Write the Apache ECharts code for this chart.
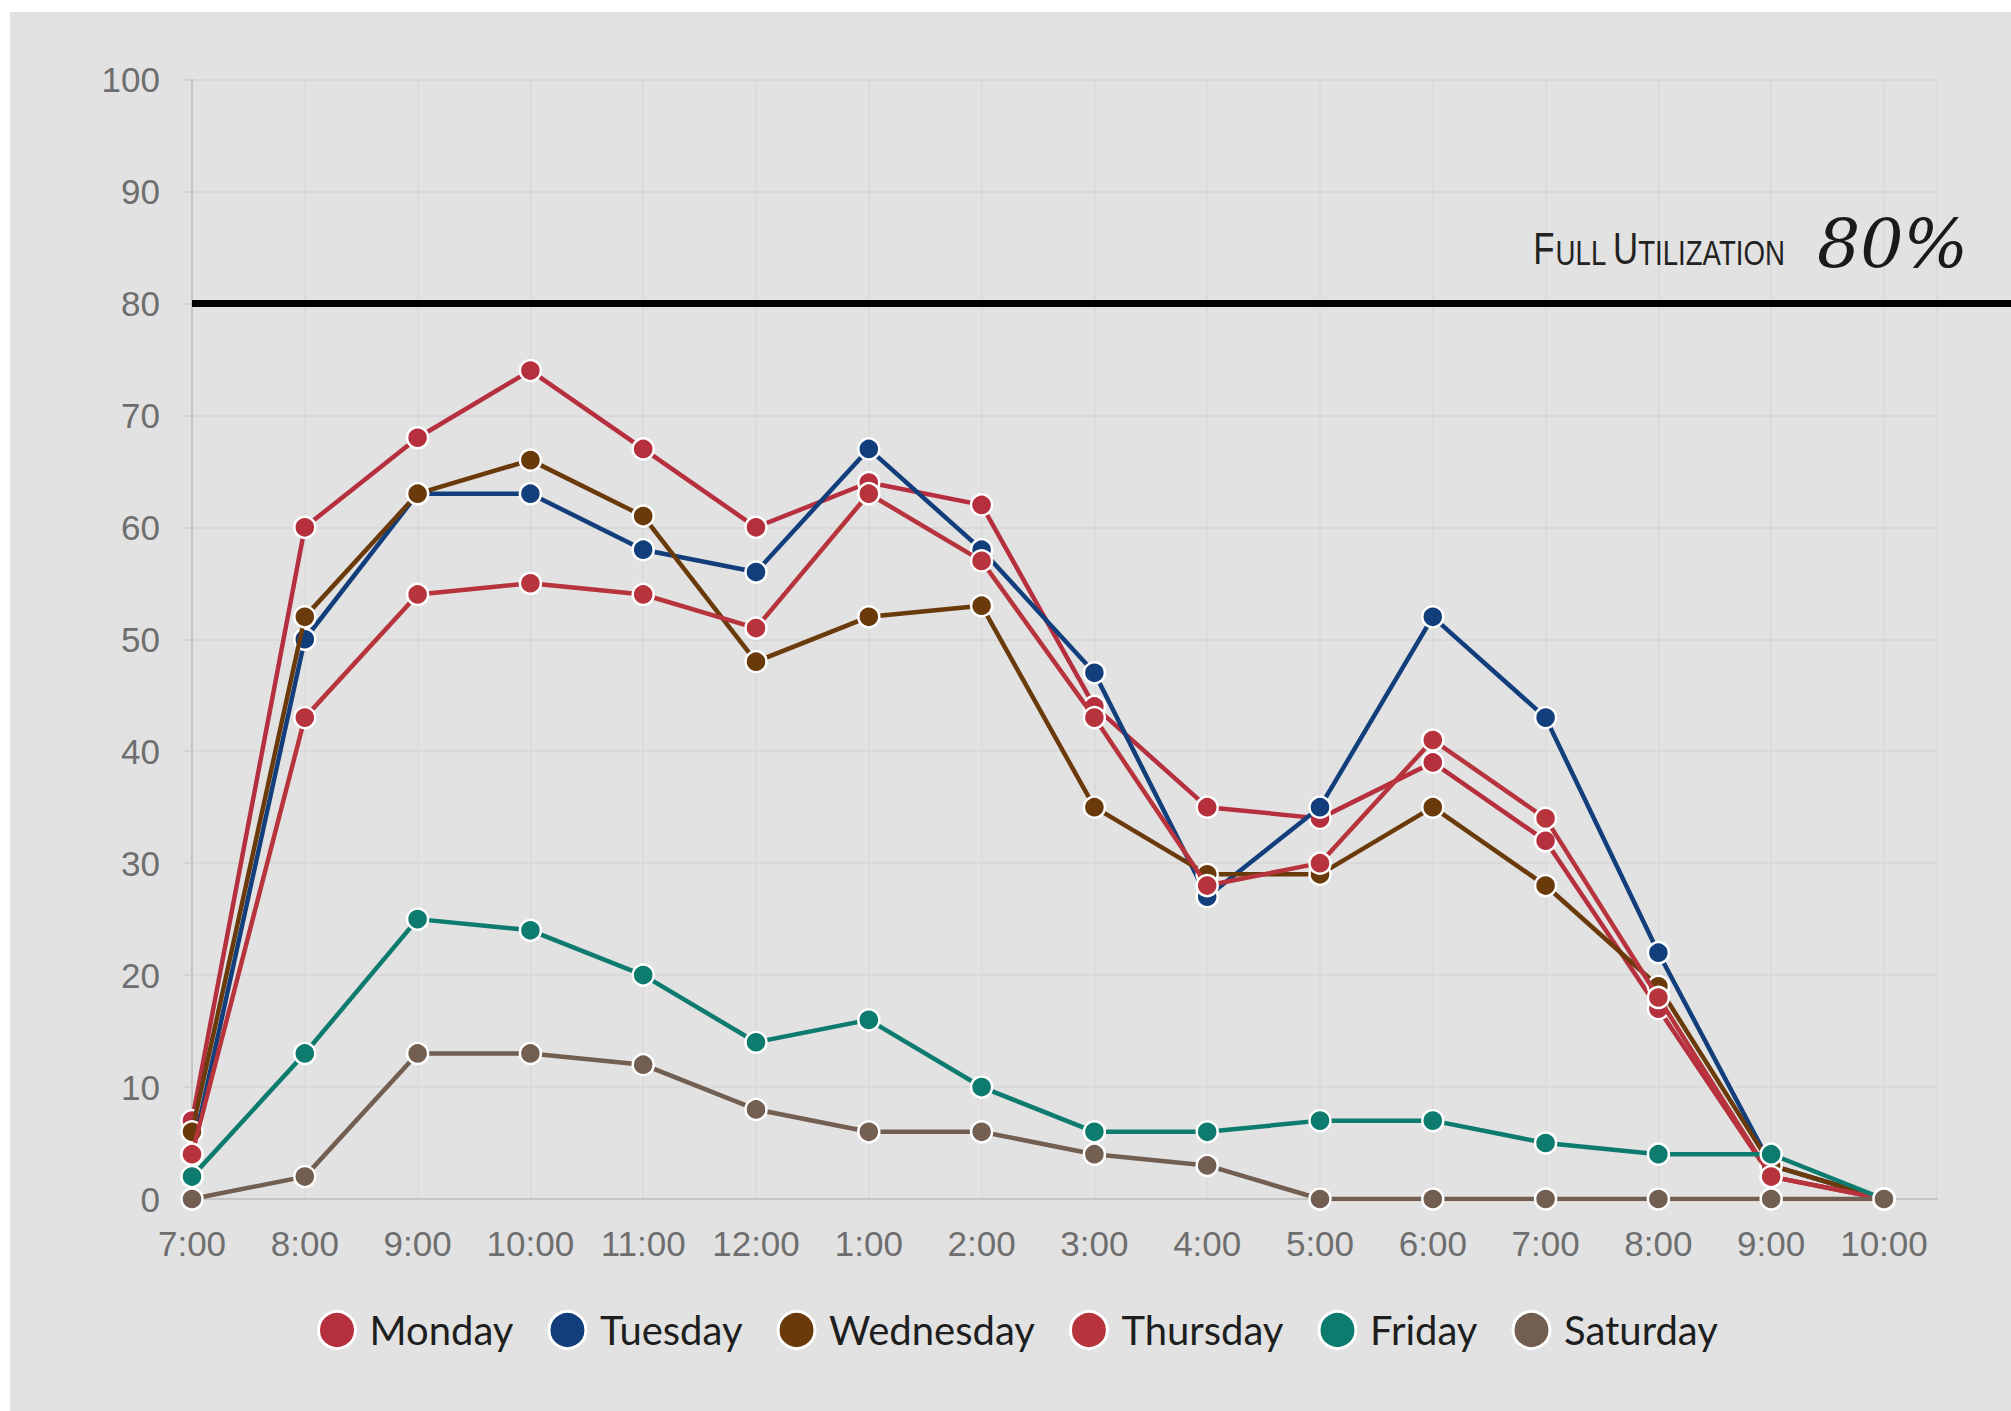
<!DOCTYPE html>
<html>
<head>
<meta charset="utf-8">
<script src="https://cdn.jsdelivr.net/npm/echarts@6/dist/echarts.min.js"></script>
<style>
  html, body { margin: 0; padding: 0; background: #ffffff; }
  #wrap { position: relative; width: 2011px; height: 1411px; background: #ffffff; overflow: hidden; }
  #chart { position: absolute; left: 10px; top: 12px; width: 2001px; height: 1399px; background: #e2e2e2; }
</style>
</head>
<body>
<div id="wrap"><div id="chart"></div></div>
<script>
// ---- data ----
const hours = ['7:00','8:00','9:00','10:00','11:00','12:00','1:00','2:00','3:00','4:00','5:00','6:00','7:00','8:00','9:00','10:00'];
const yTicks = [0,10,20,30,40,50,60,70,80,90,100];
const seriesNames = ['Monday','Tuesday','Wednesday','Thursday','Friday','Saturday'];
const monday    = [7, 60, 68, 74, 67, 60, 64, 62, 44, 35, 34, 39, 32, 17, 2, 0];
const tuesday   = [4, 50, 63, 63, 58, 56, 67, 58, 47, 27, 35, 52, 43, 22, 3, 0];
const wednesday = [6, 52, 63, 66, 61, 48, 52, 53, 35, 29, 29, 35, 28, 19, 3, 0];
const thursday  = [4, 43, 54, 55, 54, 51, 63, 57, 43, 28, 30, 41, 34, 18, 2, 0];
const friday    = [2, 13, 25, 24, 20, 14, 16, 10, 6, 6, 7, 7, 5, 4, 4, 0];
const saturday  = [0, 2, 13, 13, 12, 8, 6, 6, 4, 3, 0, 0, 0, 0, 0, 0];
const fullUtilization = 80;
const fullUtilizationLabel = '80%';

// ---- styles ----
const colors = ['#b52f3f', '#123f7c', '#6b3a0b', '#b8343d', '#0e7b6f', '#725f51'];
const values = [monday, tuesday, wednesday, thursday, friday, saturday];

const chart = echarts.init(document.getElementById('chart'), null, { renderer: 'svg' });

const series = seriesNames.map((name, k) => ({
  name: name,
  type: 'line',
  data: values[k].map((v, i) => [i, v]),
  symbol: 'circle',
  symbolSize: 21,
  lineStyle: { width: 4.5, color: colors[k] },
  itemStyle: { color: colors[k], borderColor: '#ffffff', borderWidth: 2.5 },
  emphasis: { disabled: true },
  z: 3 + k
}));

chart.setOption({
  animation: false,
  backgroundColor: 'transparent',
  grid: { left: 182, right: 74, top: 67.5, bottom: 212, containLabel: false },
  xAxis: {
    type: 'value',
    min: 0,
    max: 15.47,
    interval: 1,
    axisLine: { show: true, lineStyle: { color: '#c4c4c4', width: 2 } },
    axisTick: { show: false },
    splitLine: { show: true, lineStyle: { color: '#d8d8d8', width: 1.5 } },
    axisLabel: {
      margin: 27,
      fontFamily: 'Liberation Sans',
      fontSize: 35,
      color: '#6e6e6e',
      showMaxLabel: false,
      formatter: (v) => (Number.isInteger(v) && hours[v] !== undefined) ? hours[v] : ''
    }
  },
  yAxis: {
    type: 'value',
    min: yTicks[0],
    max: yTicks[yTicks.length - 1],
    interval: 10,
    axisLine: { show: true, lineStyle: { color: '#c4c4c4', width: 2 } },
    axisTick: { show: true, length: 8, lineStyle: { color: '#cccccc', width: 1.5 } },
    splitLine: { show: true, lineStyle: { color: '#d6d6d6', width: 1.5 } },
    axisLabel: {
      margin: 32,
      fontFamily: 'Liberation Sans',
      fontSize: 35,
      color: '#6e6e6e'
    }
  },
  legend: {
    data: seriesNames,
    left: 302,
    top: 1293,
    icon: 'circle',
    itemWidth: 37,
    itemHeight: 37,
    itemGap: 34,
    selectedMode: false,
    textStyle: { fontFamily: 'Lato', fontSize: 40, color: '#1e1e1e', padding: [0, 0, 0, 9] },
    itemStyle: { borderColor: '#ffffff', borderWidth: 3 }
  },
  series: series
});

// full utilization line and label, positioned through the axis scale
const yLine = chart.convertToPixel({ yAxisIndex: 0 }, fullUtilization);
const xStart = chart.convertToPixel({ xAxisIndex: 0 }, 0);
const W = chart.getWidth();
chart.setOption({
  graphic: [
    {
      type: 'line',
      shape: { x1: xStart, y1: yLine, x2: W, y2: yLine },
      style: { stroke: '#000000', lineWidth: 7 },
      z: 100
    },
    {
      type: 'text',
      x: 1775,
      y: yLine - 33,
      scaleX: 0.79,
      originX: 0,
      style: {
        text: '{a|F}{b|ULL }{a|U}{b|TILIZATION}',
        align: 'right',
        verticalAlign: 'bottom',
        fill: '#222222',
        rich: {
          a: { fontFamily: 'Liberation Sans', fontSize: 44, lineHeight: 44, verticalAlign: 'bottom', fill: '#222222' },
          b: { fontFamily: 'Liberation Sans', fontSize: 35, lineHeight: 44, verticalAlign: 'bottom', fill: '#222222' }
        }
      },
      z: 100
    },
    {
      type: 'text',
      x: 1807,
      y: yLine - 26,
      style: {
        text: fullUtilizationLabel,
        align: 'left',
        verticalAlign: 'bottom',
        fontFamily: 'DejaVu Serif',
        fontStyle: 'italic',
        fontSize: 68,
        fill: '#1a1a1a'
      },
      z: 100
    }
  ]
});
</script>
</body>
</html>
